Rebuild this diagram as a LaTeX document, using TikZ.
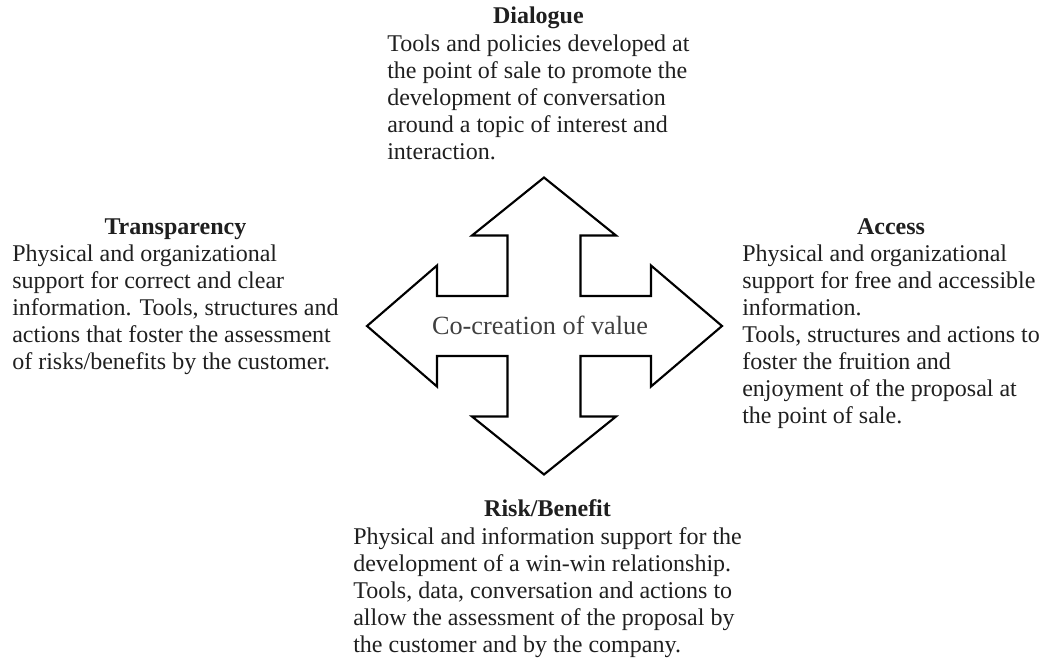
\documentclass[tikz,border=0pt]{standalone}
\usepackage{fontspec}
\setmainfont{Liberation Serif}
\usetikzlibrary{positioning}
\tikzset{
%Text under each heading
block text/.style={align=left, inner sep=0pt, text=black!88,
  font=\fontsize{18}{20.25}\selectfont},
%Bold heading over each block
block title/.style={inner sep=0pt, text=black!88, text height=12pt,
  text depth=4pt, font=\fontsize{18}{20.25}\selectfont\bfseries},
%Outline of the cross
cross line/.style={line width=1.6pt, line join=miter},
}

\begin{document}
\begin{tikzpicture}[x=0.75pt, y=-0.75pt]
\useasboundingbox (0,0) rectangle (1049,662);

% cross with four arrow heads
\begin{scope}[shift={(544,326)}]
\draw[cross line] (0,-148.5) -- (72,-90.5) -- (36.5,-90.5) -- (36.5,-30)
  -- (107,-30) -- (107,-60.5) -- (178,0) -- (107,60.5) -- (107,30)
  -- (36.5,30) -- (36.5,90.5) -- (72,90.5) -- (0,148.5) -- (-72,90.5)
  -- (-36.5,90.5) -- (-36.5,30) -- (-107,30) -- (-107,60.5) -- (-177,0)
  -- (-107,-60.5) -- (-107,-30) -- (-36.5,-30) -- (-36.5,-90.5)
  -- (-72,-90.5) -- cycle;
\end{scope}
\node[text=black!75, font=\fontsize{19.7}{22}\selectfont] (value) at (540,325)
  {Co-creation of value};

% top block
\node[block text, anchor=north west] (dialogue text) at (387,34.5)
  {Tools and policies developed at\\the point of sale to promote the\\
   development of conversation\\around a topic of interest and\\interaction.};
\node[block title, above=4pt of dialogue text] (dialogue) {Dialogue};

% left block
\node[block text, anchor=north west] (transparency text) at (12,245)
  {Physical and organizational\\support for correct and clear\\
   information. Tools, structures and\\actions that foster the assessment\\
   of risks/benefits by the customer.};
\node[block title, above=4pt of transparency text] (transparency) {Transparency};

% right block
\node[block text, anchor=north west] (access text) at (742,245)
  {Physical and organizational\\support for free and accessible\\
   information.\\Tools, structures and actions to\\foster the fruition and\\
   enjoyment of the proposal at\\the point of sale.};
\node[block title, above=4pt of access text] (access) {Access};

% bottom block
\node[block text, anchor=north west] (risk text) at (353,527)
  {Physical and information support for the\\
   development of a win-win relationship.\\
   Tools, data, conversation and actions to\\
   allow the assessment of the proposal by\\
   the customer and by the company.};
\node[block title, above=4pt of risk text] (risk) {Risk/Benefit};

\end{tikzpicture}
\end{document}
